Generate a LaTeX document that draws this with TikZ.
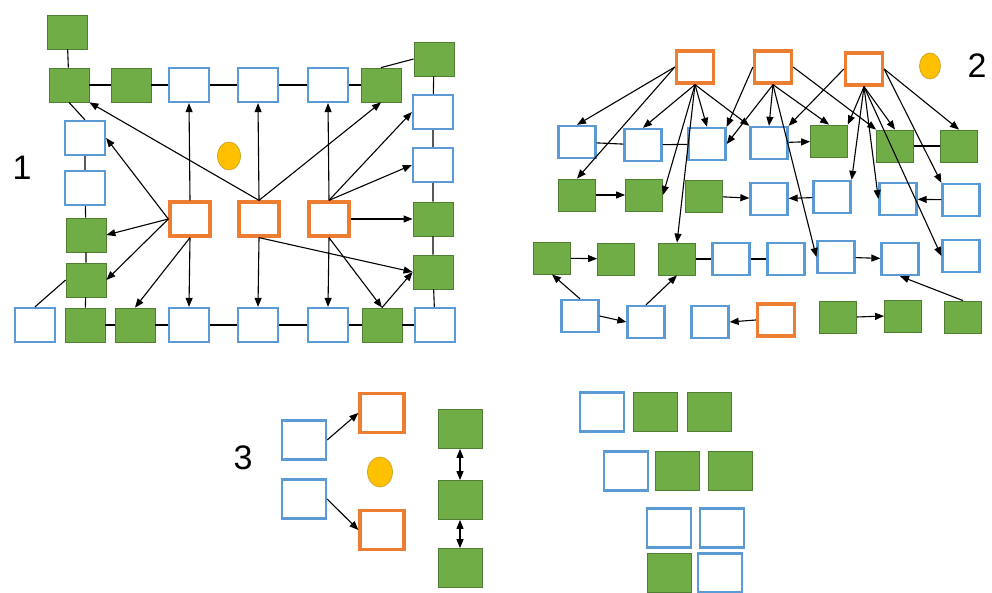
\documentclass[tikz,border=0pt]{standalone}
\usepackage{fontspec}
\setmainfont{Liberation Sans}
\usetikzlibrary{arrows.meta,shapes.geometric}
\definecolor{grn}{HTML}{70AD47}
\definecolor{grnD}{HTML}{507E32}
\definecolor{blu}{HTML}{5B9BD5}
\definecolor{org}{HTML}{ED7D31}
\definecolor{gold}{HTML}{FFC000}
\definecolor{goldD}{HTML}{C9A227}
\tikzset{
  sz/.style 2 args={rectangle,inner sep=0pt,minimum width=#1,minimum height=#2},
  grbox/.style={fill=grn,draw=grnD,line width=0.8pt},
  blbox/.style={fill=white,draw=blu,line width=2.3pt},
  orbox/.style={fill=white,draw=org,line width=3.3pt},
  dot/.style={ellipse,fill=gold,draw=goldD,line width=0.7pt,inner sep=0pt},
  arr/.style={-{Triangle[length=9pt,width=7pt]},line width=1.1pt,black},
  darr/.style={{Triangle[length=9pt,width=7pt]}-{Triangle[length=9pt,width=7pt]},line width=1.1pt,black},
  ln/.style={line width=1.1pt,black},
  num/.style={font=\fontsize{34}{34}\selectfont,inner sep=0pt}
}
\begin{document}
\begin{tikzpicture}[x=1pt,y=-1pt]
\useasboundingbox (0,0) rectangle (992,593);
% ---------------- Panel 1 ----------------
\begin{scope}[every node/.append style={sz={40pt}{34pt}}]
\node[grbox] (p1g0) at (67,32) {};
\node[grbox] (p1t1) at (69,85) {};
\node[grbox] (p1t2) at (131,85) {};
\node[blbox] (p1t3) at (189,85) {};
\node[blbox] (p1t4) at (258,85) {};
\node[blbox] (p1t5) at (328,85) {};
\node[grbox] (p1t6) at (381,85) {};
\node[grbox] (p1r0) at (434,59) {};
\node[blbox] (p1r1) at (433,112) {};
\node[blbox] (p1r2) at (433,165) {};
\node[grbox] (p1r3) at (433,219) {};
\node[grbox] (p1r4) at (433,272) {};
\node[blbox] (p1l1) at (85,138) {};
\node[blbox] (p1l2) at (85,188) {};
\node[grbox] (p1l3) at (86,235) {};
\node[grbox] (p1l4) at (86,280) {};
\node[blbox] (p1b0) at (35,325) {};
\node[grbox] (p1b1) at (85,325) {};
\node[grbox] (p1b2) at (135,325) {};
\node[blbox] (p1b3) at (189,325) {};
\node[blbox] (p1b4) at (258,325) {};
\node[blbox] (p1b5) at (328,325) {};
\node[grbox] (p1b6) at (382,325) {};
\node[blbox] (p1b7) at (435,325) {};
\node[orbox] (p1o1) at (190,219) {};
\node[orbox] (p1o2) at (259,219) {};
\node[orbox] (p1o3) at (329,219) {};
\end{scope}
\node[dot,minimum width=23pt,minimum height=28pt] (p1c) at (229,156) {};
\node[num] (p1n) at (22,168) {1};
% plain lines
\draw[ln] (p1g0) -- (p1t1);
\draw[ln] (p1t1) -- (p1t2) -- (p1t3) -- (p1t4) -- (p1t5) -- (p1t6);
\draw[ln] (p1t6.north) -- (p1r0.west);
\draw[ln] (p1r0) -- (p1r1) -- (p1r2) -- (p1r3) -- (p1r4) -- (p1b7);
\draw[ln] (p1t1.south) -- (p1l1.north);
\draw[ln] (p1l1) -- (p1l2) -- (p1l3) -- (p1l4) -- (p1b1);
\draw[ln] (p1b0.north) -- (p1l4.west);
\draw[ln] (p1b1) -- (p1b2) -- (p1b3) -- (p1b4) -- (p1b5) -- (p1b6) -- (p1b7);
% arrows
\draw[arr] (p1o2.north) -- (p1t1.south east);
\draw[arr] (p1o1.west) -- (p1l1.east);
\draw[arr] (p1o1.west) -- (p1l3.east);
\draw[arr] (p1o1.west) -- (p1l4.east);
\draw[arr] (p1o1.south) -- (p1b2.north);
\draw[arr] (p1o1.south) -- (p1b3.north);
\draw[arr] (p1o1.north) -- (p1t3.south);
\draw[arr] (p1o2.north) -- (p1t4.south);
\draw[arr] (p1o2.south) -- (p1b4.north);
\draw[arr] (p1o2.north) -- (p1t6.south);
\draw[arr] (p1o2.south) -- (p1r4.west);
\draw[arr] (p1o3.north) -- (p1t5.south);
\draw[arr] (p1o3.north) -- (p1r1.west);
\draw[arr] (p1o3.north) -- (p1r2.west);
\draw[arr] (p1o3.east) -- (p1r3.west);
\draw[arr] (p1o3.south) -- (p1b5.north);
\draw[arr] (p1o3.south) -- (p1b6.north);
\draw[arr] (p1b6.north) -- (p1r4.west);
% ---------------- Panel 2 ----------------
\begin{scope}[every node/.append style={sz={37pt}{32pt}}]
\node[orbox] (p2oa) at (695,67) {};
\node[orbox] (p2ob) at (773,67) {};
\node[orbox] (p2oc) at (864,69) {};
\node[blbox] (p2a1) at (577,142) {};
\node[blbox] (p2a2) at (643,145) {};
\node[blbox] (p2a3) at (707,144) {};
\node[blbox] (p2a4) at (769,143) {};
\node[grbox] (p2a5) at (829,141) {};
\node[grbox] (p2a6) at (895,146) {};
\node[grbox] (p2a7) at (959,146) {};
\node[grbox] (p2b1) at (577,195) {};
\node[grbox] (p2b2) at (644,195) {};
\node[grbox] (p2b3) at (704,196) {};
\node[blbox] (p2b4) at (769,199) {};
\node[blbox] (p2b5) at (832,197) {};
\node[blbox] (p2b6) at (898,199) {};
\node[blbox] (p2b7) at (961,200) {};
\node[grbox] (p2c1) at (552,258) {};
\node[grbox] (p2c2) at (616,259) {};
\node[grbox] (p2c3) at (677,259) {};
\node[blbox] (p2c4) at (731,259) {};
\node[blbox] (p2c5) at (786,259) {};
\node[blbox] (p2c6) at (836,257) {};
\node[blbox] (p2c7) at (900,259) {};
\node[blbox] (p2c8) at (961,256) {};
\node[blbox] (p2d1) at (580,316) {};
\node[blbox] (p2d2) at (646,322) {};
\node[blbox] (p2d3) at (710,322) {};
\node[orbox] (p2d4) at (776,320) {};
\node[grbox] (p2d5) at (838,317) {};
\node[grbox] (p2d6) at (903,316) {};
\node[grbox] (p2d7) at (963,317) {};
\end{scope}
\node[dot,minimum width=21pt,minimum height=26pt] (p2c) at (930,66) {};
\node[num] (p2n) at (977,66) {2};
% plain lines
\draw[ln] (p2a1) -- (p2a2) -- (p2a3);
\draw[ln] (p2a6) -- (p2a7);
\draw[ln] (p2c3) -- (p2c4) -- (p2c5);
% row arrows
\draw[arr] (p2a4) -- (p2a5);
\draw[arr] (p2b1) -- (p2b2);
\draw[arr] (p2b3) -- (p2b4);
\draw[arr] (p2b5) -- (p2b4);
\draw[arr] (p2b7) -- (p2b6);
\draw[arr] (p2c1) -- (p2c2);
\draw[arr] (p2c6) -- (p2c7);
\draw[arr] (p2d7.north) -- (p2c7.south);
\draw[arr] (p2d1.north) -- (p2c1.south);
\draw[arr] (p2d1.east) -- (p2d2.west);
\draw[arr] (p2d2.north) -- (p2c3.south);
\draw[arr] (p2d4.west) -- (p2d3.east);
\draw[arr] (p2d5.east) -- (p2d6.west);
% arrows from top oranges
\draw[arr] (p2oa.west) -- (p2a1.north);
\draw[arr] (p2oa.west) -- (p2b1.north);
\draw[arr] (p2oa.south) -- (p2a2.north);
\draw[arr] (p2oa.south) -- (p2a3.north);
\draw[arr] (p2oa.south) -- (p2a4.north west);
\draw[arr] (p2oa.south) -- (p2b2.east);
\draw[arr] (p2oa.south) -- (p2c3.north);
\draw[arr] (p2ob.west) -- (p2a3.north east);
\draw[arr] (p2ob.south) -- (p2a3.east);
\draw[arr] (p2ob.south) -- (p2a4.north);
\draw[arr] (p2ob.south) -- (p2a5.north);
\draw[arr] (p2ob.south) -- (p2c6.west);
\draw[arr] (p2ob.east) -- (p2a6.north west);
\draw[arr] (p2oc.west) -- (p2a4.north east);
\draw[arr] (p2oc.south) -- (p2a5.north east);
\draw[arr] (p2oc.south) -- (p2a6.north);
\draw[arr] (p2oc.south) -- (p2b5.north east);
\draw[arr] (p2oc.south) -- (p2b6.west);
\draw[arr] (p2oc.south) -- (p2c8.west);
\draw[arr] (p2oc.east) -- (p2a7.north);
\draw[arr] (p2oc.east) -- (p2b7.north west);
% ---------------- Panel 3 ----------------
\begin{scope}[every node/.append style={sz={44pt}{39pt}}]
\node[blbox] (p3b1) at (304,440) {};
\node[blbox] (p3b2) at (304,499) {};
\node[orbox] (p3o1) at (382,413) {};
\node[orbox] (p3o2) at (382,530) {};
\node[grbox] (p3g1) at (460,429) {};
\node[grbox] (p3g2) at (460,500) {};
\node[grbox] (p3g3) at (460,568) {};
\end{scope}
\node[dot,minimum width=25pt,minimum height=30pt] (p3c) at (380,472) {};
\node[num] (p3n) at (243,458) {3};
\draw[arr] (p3b1.east) -- (p3o1.west);
\draw[arr] (p3b2.east) -- (p3o2.west);
\draw[darr] (p3g1) -- (p3g2);
\draw[darr] (p3g2) -- (p3g3);
% ---------------- Panel 4 ----------------
\begin{scope}[every node/.append style={sz={44pt}{39pt}}]
\node[blbox] (p4a1) at (602,412) {};
\node[grbox] (p4a2) at (655,412) {};
\node[grbox] (p4a3) at (709,412) {};
\node[blbox] (p4b1) at (626,471) {};
\node[grbox] (p4b2) at (677,471) {};
\node[grbox] (p4b3) at (730,471) {};
\node[blbox] (p4c1) at (669,528) {};
\node[blbox] (p4c2) at (722,528) {};
\node[grbox] (p4d1) at (669,573) {};
\node[blbox] (p4d2) at (720,573) {};
\end{scope}
\end{tikzpicture}
\end{document}
